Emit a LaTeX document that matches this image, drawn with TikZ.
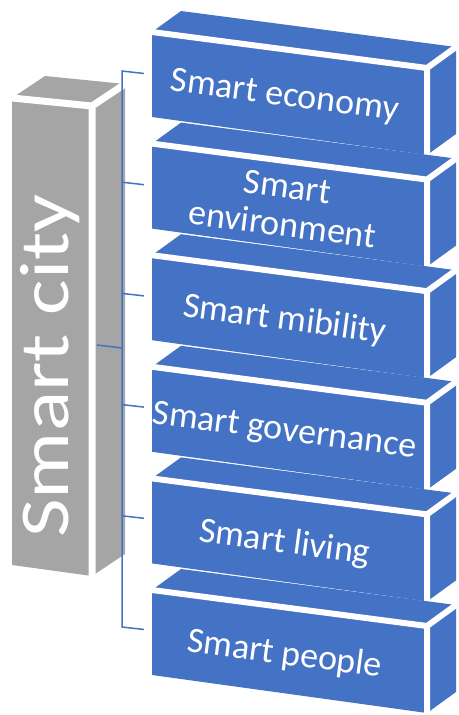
\documentclass[tikz,border=0pt]{standalone}
\usepackage{fontspec}
\setmainfont{Carlito}
\definecolor{smartblue}{HTML}{4472C4}
\definecolor{citygray}{HTML}{A5A5A5}

\begin{document}
\begin{tikzpicture}[x=1pt,y=-1pt,
  edge/.style={white,line width=6pt,line join=round},
  blocklabel/.style={text=white,inner sep=0pt,align=center,rotate=-7.46,text depth=0pt,font=\fontsize{36}{38}\selectfont},
  citylabel/.style={text=white,inner sep=0pt,rotate=90,xscale=1.2,anchor=base,font=\fontsize{70}{80}\selectfont},
  link/.style={smartblue,line width=1.5pt}]
\useasboundingbox (0,0) rectangle (458,715);

\fill[citygray] (12,98) -- (92,106) -- (92,576) -- (12,565) -- cycle;
\fill[citygray] (12,98) -- (45,76) -- (125,84) -- (92,106) -- cycle;
\fill[citygray] (92,106) -- (125,84) -- (125,554) -- (92,576) -- cycle;
\draw[edge,line width=7pt] (12,98) -- (92,106) -- (92,576) (92,106) -- (125,84);
\node[citylabel] (city) at (68,366) {Smart city};

\foreach \i/\txt in {1/Smart economy,2/{Smart\\environment},3/Smart mibility,4/Smart governance,5/Smart living,6/Smart people}{
  \pgfmathsetmacro{\ytop}{32+111.6*(\i-1)}
  \pgfmathsetmacro{\ytick}{71+111.2*(\i-1)}
  \fill[smartblue] (152,\ytop) -- (427,\ytop+36) -- (427,\ytop+123) -- (152,\ytop+85) -- cycle;
  \fill[smartblue] (152,\ytop) -- (181,\ytop-21) -- (456,\ytop+15) -- (427,\ytop+36) -- cycle;
  \fill[smartblue] (427,\ytop+36) -- (456,\ytop+15) -- (456,\ytop+102) -- (427,\ytop+123) -- cycle;
  \draw[edge] (152,\ytop) -- (427,\ytop+36) -- (427,\ytop+123) (427,\ytop+36) -- (456,\ytop+15);
  \node[blocklabel] (block\i) at (285,\ytop+62) {\txt};
  \coordinate (spine\i) at (122,\ytick);
  \coordinate (tick\i) at (144,\ytick+2.5);
}

\coordinate (cityport) at (97,345);
\coordinate (spinemid) at (122,348);
\draw[link] (tick1) -- (spine1) -- (spine6) -- (tick6);
\foreach \i in {2,...,5}
  \draw[link] (spine\i) -- (tick\i);
\draw[link] (cityport) -- (spinemid);
\end{tikzpicture}
\end{document}
